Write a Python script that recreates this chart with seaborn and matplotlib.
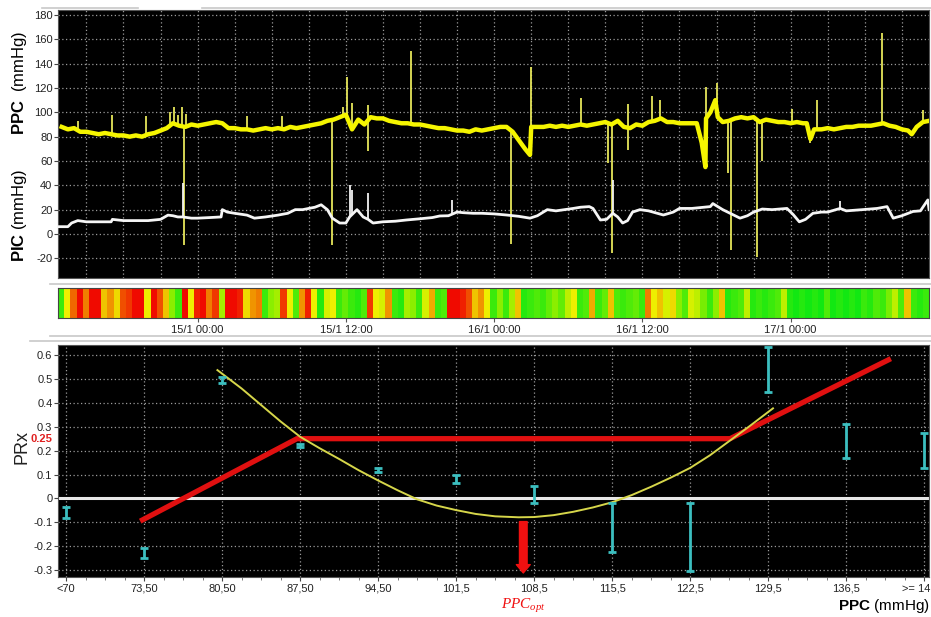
import numpy as np
import pandas as pd
import matplotlib
matplotlib.use("Agg")
import matplotlib.pyplot as plt
import matplotlib.transforms as mtransforms
from matplotlib import font_manager
from matplotlib.colors import LinearSegmentedColormap
from matplotlib.lines import Line2D
import seaborn as sns

# ---------------- data ----------------
# Top panel: time in hours relative to 15/1 00:00
ppc_t = [-11.0, -10.5, -10.0, -9.5, -9.0, -8.5, -8.0, -7.5, -7.0, -6.5, -6.0, -5.5, -5.0, -4.5,
         -4.0, -3.5, -3.0, -2.5, -2.0, -1.5, -1.0, -0.5, 0.0, 0.5, 1.0, 1.5, 2.0, 2.5, 3.0, 3.5,
         4.0, 4.5, 5.0, 5.5, 6.0, 6.5, 7.0, 7.5, 8.0, 8.5, 9.0, 9.5, 10.0, 10.5, 11.0, 11.5,
         12.0, 12.5, 13.0, 13.5, 14.0, 14.5, 15.0, 15.5, 16.0, 16.5, 17.0, 17.5, 18.0, 18.5,
         19.0, 19.5, 20.0, 20.5, 21.0, 21.5, 22.0, 22.5, 23.0, 23.5, 24.0, 24.5, 25.0, 25.5,
         26.0, 26.5, 26.9, 27.0, 27.5, 28.0, 28.5, 29.0, 29.5, 30.0, 30.5, 31.0, 31.5, 32.0,
         32.5, 33.0, 33.5, 34.0, 34.5, 35.0, 35.5, 36.0, 36.5, 37.0, 37.5, 38.0, 38.5, 39.0,
         39.5, 40.0, 40.4, 40.8, 41.1, 41.15, 41.5, 41.9, 42.1, 42.5, 43.0, 43.5, 44.0, 44.5,
         45.0, 45.5, 46.0, 46.5, 47.0, 47.5, 48.0, 48.5, 49.0, 49.3, 49.6, 49.9, 50.5, 51.0,
         51.5, 52.0, 52.5, 53.0, 53.5, 54.0, 54.5, 55.0, 55.5, 56.0, 56.5, 57.0, 57.5, 57.8,
         58.2, 58.7, 59.2]
ppc_v = [88, 86, 87, 84, 84, 83, 82, 83, 82, 81, 81, 80, 81, 80,
         82, 83, 85, 87, 91, 89, 88, 90, 89, 90, 91, 92, 91, 87, 87, 86,
         86, 85, 86, 87, 86, 87, 86, 88, 87, 88, 89, 90, 91, 93, 94, 96,
         98, 86, 94, 90, 96, 95, 95, 93, 92, 91, 91, 90, 90, 89,
         88, 87, 87, 86, 85, 85, 84, 86, 85, 86, 87, 88, 88, 84,
         77, 70, 65, 88, 88, 88, 89, 88, 89, 88, 89, 90, 89, 90,
         91, 92, 90, 93, 88, 87, 90, 89, 92, 93, 95, 92, 92, 91,
         91, 91, 91, 75, 55, 95, 100, 110, 96, 92, 93, 95, 96, 95,
         96, 92, 94, 93, 92, 92, 91, 92, 91, 91, 78, 86, 86, 87,
         86, 87, 88, 88, 89, 89, 89, 90, 91, 89, 88, 86, 85, 82,
         88, 92, 93]
ppc_spike_t = [-9.7, -6.9, -4.2, -2.2, -1.9, -1.6, -1.3, -1.1, -0.9, 4.0, 6.8, 10.9, 11.8, 12.1,
               12.5, 13.8, 13.8, 17.3, 25.4, 27.0, 31.0, 33.2, 33.5, 34.8, 34.8, 36.8, 37.4,
               41.15, 42.0, 42.9, 43.2, 45.3, 45.7, 48.1, 49.6, 50.1, 55.4, 58.7]
ppc_spike_v = [93, 98, 97, 100, 104, 98, 104, -9, 99, 97, 97, -9, 104, 129,
               108, 106, 68, 150, -8, 137, 112, 58, -16, 107, 69, 113, 110,
               121, 124, 50, -13, -19, 60, 103, 75, 110, 165, 102]

pic_t = [-11.3, -11.0, -10.5, -10.2, -9.7, -9.0, -8.0, -7.0, -6.9, -6.0, -5.0, -4.0, -3.5, -3.0,
         -2.4, -2.0, -1.6, -1.2, -0.5, 0.0, 1.0, 1.9, 2.0, 2.4, 3.0, 4.0, 4.6, 5.5, 6.5, 7.3,
         7.9, 8.5, 9.5, 10.0, 10.5, 10.9, 11.5, 12.0, 12.3, 12.6, 12.9, 13.4, 13.8, 14.2, 15.0,
         16.0, 16.9, 18.0, 19.0, 19.6, 20.3, 21.0, 21.5, 22.3, 23.0, 24.0, 25.0, 26.0, 26.9,
         27.5, 28.3, 29.0, 30.4, 31.0, 31.7, 32.0, 32.6, 33.1, 33.6, 34.0, 34.4, 34.8, 35.2,
         35.8, 36.5, 37.7, 38.5, 39.0, 40.0, 41.0, 41.5, 41.7, 42.5, 43.1, 43.9, 44.5, 45.0,
         45.7, 46.5, 47.7, 48.2, 48.7, 49.2, 49.8, 50.5, 51.0, 52.0, 52.5, 53.8, 55.0, 55.8,
         56.3, 57.0, 57.9, 58.5, 59.1, 59.2]
pic_v = [6, 6, 6, 9, 11, 10, 10, 10, 12, 11, 11, 11, 11.5, 12,
         15.5, 15, 14, 14, 13, 13, 13.5, 14, 20, 18, 17, 15.5, 13, 14, 15.5, 17,
         20, 20, 22, 24, 20, 13, 9, 9, 14, 17, 20, 14, 12, 9, 10,
         10.5, 11.5, 12.5, 13.5, 14.8, 15, 18, 17.5, 17, 17, 16.5, 15.6, 14.5, 13,
         15, 20, 19, 21, 22, 22.5, 21, 11.5, 12, 17, 14, 9, 11, 18,
         20, 19, 15.6, 18, 21, 21, 22, 22.5, 25, 20, 17, 13, 15, 18,
         20.5, 20, 21, 16, 10, 12, 17, 18, 18, 21, 19, 20, 21, 22.5,
         13, 15, 18.5, 19, 28, 20]
pic_spike_t = [-1.2, 12.3, 12.5, 13.8, 20.6, 33.6, 52.0]
pic_spike_v = [42, 40, 36, 34, 28, 44, 27]

# Colour strip: PRx index per half-hour bin (0 = good/green ... 1 = bad/red)
strip_start, strip_end = -11.3, 59.2
strip_vals = [0.1, 0.5, 0.8, 1.0, 0.75, 1.0, 1.0, 0.6, 0.7, 0.55, 0.85, 0.9, 1.0, 1.0, 0.5,
              1.0, 0.85, 0.6, 0.3, 0.1, 1.0, 0.5, 0.95, 1.0, 0.75, 0.9, 0.35, 1.0, 1.0, 0.95,
              0.55, 0.7, 0.75, 0.1, 0.3, 0.35, 0.9, 0.5, 0.15, 0.7, 0.95, 0.5, 0.05, 0.45, 0.5,
              0.1, 0.2, 0.1, 0.05, 0.15, 0.9, 0.5, 0.45, 0.7, 0.1, 0.05, 0.35, 0.3, 0.1, 0.45,
              0.65, 0.1, 0.15, 1.0, 1.0, 0.95, 0.85, 0.6, 0.7, 0.5, 0.1, 0.3, 0.1, 0.35, 0.6,
              0.05, 0.1, 0.15, 0.1, 0.2, 0.3, 0.2, 0.4, 0.5, 0.1, 0.15, 0.65, 0.1, 0.2, 0.6,
              0.15, 0.1, 0.15, 0.2, 0.1, 0.75, 0.5, 0.6, 0.45, 0.55, 0.3, 0.15, 0.45, 0.4, 0.25,
              0.1, 0.3, 0.6, 0.05, 0.1, 0.15, 0.4, 0.05, 0.1, 0.05, 0.1, 0.15, 0.4, 0.05, 0.0,
              0.05, 0.0, 0.05, 0.0, 0.15, 0.0, 0.05, 0.0, 0.05, 0.0, 0.1, 0.05, 0.15, 0.1, 0.25,
              0.4, 0.15, 0.6, 0.1, 0.05, 0.1]
strip_tick_h = [0, 12, 24, 36, 48]
strip_tick_labels = ["15/1 00:00", "15/1 12:00", "16/1 00:00", "16/1 12:00", "17/1 00:00"]

# Bottom panel: PRx by PPC bin
ppc_bins = ["<70", "73,50", "80,50", "87,50", "94,50", "101,5", "108,5", "115,5",
            "122,5", "129,5", "136,5", ">= 14"]
prx_low = [-0.082, -0.25, 0.483, 0.215, 0.11, 0.064, -0.02, -0.225, -0.304, 0.445, 0.169, 0.127]
prx_high = [-0.036, -0.208, 0.508, 0.227, 0.127, 0.098, 0.051, -0.02, -0.02, 0.633, 0.311, 0.273]
fit_x = [1.94, 2.25, 2.5, 2.75, 3.0, 3.25, 3.5, 3.75, 4.0, 4.25, 4.5, 4.75, 5.0, 5.25, 5.5,
         5.8, 6.0, 6.25, 6.5, 6.75, 7.0, 7.25, 7.5, 7.75, 8.0, 8.25, 8.5, 8.75, 9.06]
fit_y = [0.537, 0.46, 0.391, 0.322, 0.258, 0.21, 0.165, 0.118, 0.075, 0.034, -0.004, -0.03,
         -0.049, -0.065, -0.075, -0.079, -0.078, -0.07, -0.056, -0.038, -0.016, 0.014, 0.049,
         0.087, 0.128, 0.18, 0.24, 0.30, 0.377]
lim_x = [0.98, 2.96, 8.51, 10.54]
lim_y = [-0.09, 0.25, 0.25, 0.58]
prx_threshold = 0.25
ppc_opt_pos = 5.86

# ---------------- fonts ----------------
names = {f.name for f in font_manager.fontManager.ttflist}
sans = "Liberation Sans" if "Liberation Sans" in names else "DejaVu Sans"
narrow = "Liberation Sans Narrow" if "Liberation Sans Narrow" in names else sans
plt.rcParams["font.family"] = [sans, "DejaVu Sans"]
plt.rcParams["mathtext.fontset"] = "custom"
plt.rcParams["mathtext.bf"] = sans + ":bold"
plt.rcParams["mathtext.rm"] = sans
plt.rcParams["mathtext.it"] = "Liberation Serif:italic"

tick_font = dict(family=[narrow, "DejaVu Sans"], size=8, color="#222222")
grid_kw = dict(color="#9a9a9a", linestyle=(0, (1, 2)), linewidth=0.9)

fig = plt.figure(figsize=(9.31, 6.17), dpi=100)
fig.patch.set_facecolor("white")

# ---------------- top panel ----------------
ax1 = fig.add_axes([0.0623, 0.5494, 0.9356, 0.4344])
ax1.set_facecolor("black")
ppc_base = np.interp(ppc_spike_t, ppc_t, ppc_v)
ax1.vlines(ppc_spike_t, ppc_base, ppc_spike_v, color="#E6E65A", linewidth=1.3, zorder=3)
pic_base = np.interp(pic_spike_t, pic_t, pic_v)
ax1.vlines(pic_spike_t, pic_base, pic_spike_v, color="#F2F2F2", linewidth=1.3, zorder=3)
sns.lineplot(x=ppc_t, y=ppc_v, ax=ax1, color="#F5F500", linewidth=3.2, estimator=None,
             sort=False, zorder=4)
sns.lineplot(x=pic_t, y=pic_v, ax=ax1, color="#F5F5F5", linewidth=2.0, estimator=None,
             sort=False, zorder=4)
ax1.set_xlim(-11.3, 59.2)
ax1.set_ylim(-36.2, 184.1)
yt = list(range(180, -21, -20))
ax1.set_yticks(yt)
ax1.set_yticklabels([str(v) for v in yt], fontdict=tick_font)
ax1.set_xticks(np.arange(-9, 60, 3))
ax1.set_xticklabels([])
ax1.tick_params(axis="x", length=0)
ax1.tick_params(axis="y", length=3, width=0.8, color="#444444", pad=1)
ax1.grid(True, **grid_kw)
ax1.set_axisbelow(True)
for s in ax1.spines.values():
    s.set_color("#555555")
ax1.set_xlabel("")
ax1.set_ylabel("")

# ---------------- colour strip ----------------
ax2 = fig.add_axes([0.0623, 0.4846, 0.9356, 0.0486])
cmap = LinearSegmentedColormap.from_list(
    "prx", [(0.0, "#12E812"), (0.3, "#8CEE00"), (0.5, "#EEF000"), (0.72, "#F08C00"), (1.0, "#F00A00")])
edges = np.linspace(strip_start, strip_end, len(strip_vals) + 1)
ax2.pcolormesh(edges, [0, 1], np.array([strip_vals]), cmap=cmap, vmin=0, vmax=1)
ax2.set_xlim(-11.3, 59.2)
ax2.set_ylim(0, 1)
ax2.set_yticks([])
ax2.set_xticks(strip_tick_h)
ax2.set_xticklabels(strip_tick_labels, fontdict=tick_font)
ax2.tick_params(axis="x", length=3, width=0.8, color="#555555", pad=2)
for s in ax2.spines.values():
    s.set_color("#444444")
    s.set_linewidth(0.8)

# ---------------- bottom panel ----------------
ax3 = fig.add_axes([0.0623, 0.0648, 0.9356, 0.376])
ax3.set_facecolor("black")
ax3.axhline(0, color="#E8E8E8", linewidth=2.2, zorder=2)
sns.lineplot(x=lim_x, y=lim_y, ax=ax3, color="#E01010", linewidth=3.8, estimator=None,
             sort=False, zorder=3)
sns.lineplot(x=fit_x, y=fit_y, ax=ax3, color="#D6D64A", linewidth=1.4, estimator=None,
             sort=False, zorder=4)
pos = np.arange(len(ppc_bins))
mid = (np.array(prx_low) + np.array(prx_high)) / 2
half = (np.array(prx_high) - np.array(prx_low)) / 2
ax3.errorbar(pos, mid, yerr=half, fmt="none", ecolor="#3CBFC0", elinewidth=2.0,
             capsize=3, capthick=2.0, zorder=5)
ax3.annotate("", xy=(ppc_opt_pos, -0.312), xytext=(ppc_opt_pos, -0.097),
             arrowprops=dict(width=5.5, headwidth=10, headlength=6, color="#F01010", shrink=0),
             zorder=6)
ax3.set_xlim(-0.103, 11.06)
ax3.set_ylim(-0.329, 0.642)
ytv = [0.6, 0.5, 0.4, 0.3, 0.2, 0.1, 0.0, -0.1, -0.2, -0.3]
ax3.set_yticks(ytv)
ax3.set_yticklabels(["0.6", "0.5", "0.4", "0.3", "0.2", "0.1", "0", "-0.1", "-0.2", "-0.3"],
                    fontdict=tick_font)
ax3.set_xticks(pos)
ax3.set_xticklabels(ppc_bins, fontdict=tick_font)
ax3.set_xticks(np.arange(0, 11.06, 0.25), minor=True)
ax3.tick_params(axis="x", which="major", length=3, width=0.8, color="#444444", pad=2)
ax3.tick_params(axis="x", which="minor", length=2, width=0.6, color="#666666")
ax3.tick_params(axis="y", length=3, width=0.8, color="#444444", pad=1)
ax3.grid(True, which="major", **grid_kw)
ax3.set_axisbelow(True)
for s in ax3.spines.values():
    s.set_color("#555555")
ax3.set_xlabel("")
ax3.set_ylabel("")
# keep the last (clipped in the original) bin label inside the figure
last = ax3.get_xticklabels()[-1]
last.set_transform(last.get_transform() + mtransforms.ScaledTranslation(-8 / 100, 0, fig.dpi_scale_trans))

# threshold label
ax3.text(-0.019, prx_threshold, "0.25", transform=ax3.get_yaxis_transform(),
         ha="center", va="center", fontsize=8, fontweight="bold", color="#E02020",
         family=[narrow, "DejaVu Sans"])
# PPC_opt label
ax3.text(ppc_opt_pos, -0.125, r"$PPC_{opt}$", transform=ax3.get_xaxis_transform(),
         ha="center", va="center", fontsize=11, color="#F01010")

# ---------------- axis titles ----------------
fig.text(20 / 931, 1 - 83 / 617, r"$\mathbf{PPC}$  (mmHg)", rotation=90, ha="center",
         va="center", fontsize=12, color="black")
fig.text(20 / 931, 1 - 215 / 617, r"$\mathbf{PIC}$ (mmHg)", rotation=90, ha="center",
         va="center", fontsize=12, color="black")
fig.text(22 / 931, 1 - 447 / 617, "PRx", rotation=90, ha="center", va="center",
         fontsize=13, color="#222222")
fig.text(930 / 931, 1 - 606 / 617, r"$\mathbf{PPC}$ (mmHg)", ha="right", va="center",
         fontsize=11, color="black")

# window frame lines
for (x0, x1, yy) in [(42, 138, 8), (202, 931, 8), (50, 931, 284), (50, 931, 336), (30, 931, 341)]:
    fig.add_artist(Line2D([x0 / 931, x1 / 931], [1 - yy / 617, 1 - yy / 617],
                          color="#c8c8c8", linewidth=1.2, transform=fig.transFigure))

fig.savefig("out.png", dpi=100, facecolor="white")
